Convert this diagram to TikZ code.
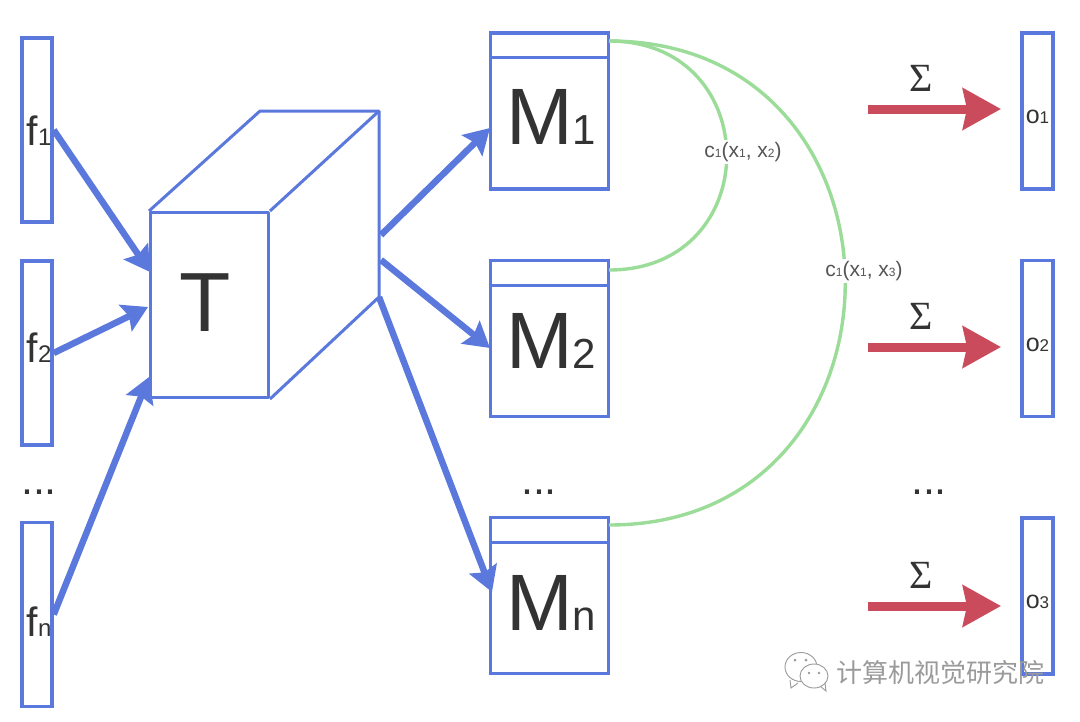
\documentclass[tikz,border=0pt]{standalone}
\usepackage{fontspec}
\setmainfont{Liberation Sans}
\newfontfamily\sigmafont{Liberation Serif}
\newfontfamily\cjkfont{Noto Sans CJK SC}
\usetikzlibrary{arrows.meta,calc}
\definecolor{boxblue}{HTML}{5B78DC}
\definecolor{sumred}{HTML}{C94B5C}
\definecolor{linkgreen}{HTML}{9ADC98}
\definecolor{inkgray}{HTML}{333333}
\definecolor{labelgray}{HTML}{555555}
\definecolor{markgray}{HTML}{9A9A9A}
\tikzset{
  bar/.style={draw=boxblue,line width=3.4pt,minimum width=30pt,minimum height=184pt,inner sep=0pt},
  memory/.style={draw=boxblue,line width=3.4pt,minimum width=118pt,minimum height=156pt,inner sep=0pt},
  outbar/.style={draw=boxblue,line width=3.4pt,minimum width=31pt,minimum height=156pt,inner sep=0pt},
  cube/.style={draw=boxblue,line width=3pt,line join=round},
  flow/.style={draw=boxblue,line width=6.5pt,-{Stealth[length=25pt,width=29pt,inset=4pt]}},
  sumflow/.style={draw=sumred,line width=9pt,-{Stealth[length=38pt,width=41pt,inset=4pt]}},
  link/.style={draw=linkgreen,line width=3.4pt},
  txt/.style={text=inkgray,inner sep=0pt},
  linklabel/.style={text=labelgray,fill=white,inner sep=2pt,font=\fontsize{21}{21}\selectfont},
}
\newcommand{\sub}[2]{{\fontsize{#1}{#1}\selectfont #2}}
\begin{document}
\begin{tikzpicture}[x=1pt,y=-1pt]
\useasboundingbox (0,0) rectangle (1080,721);
% input bars
\foreach \name/\yy/\ly/\lab in {f1/130/131/1,f2/353/348/2,fn/614.5/622/n} {
  \node [bar] (\name) at (37,\yy) {};
  \node [txt] (lab\name) at (39,\ly) {\fontsize{41}{41}\selectfont f\sub{24}{\lab}};
}
% cube
\node [cube,draw,minimum width=118pt,minimum height=185pt,inner sep=0pt] (T) at (209.5,305) {};
\node [txt] (labT) at (205,303) {\fontsize{84}{84}\selectfont T};
\coordinate (topback) at (260,111);
\coordinate (topright) at (379,111);
\coordinate (botright) at (379,297);
\draw [cube] (T.north west) -- (topback) -- (topright) -- (botright) -- (T.south east);
\draw [cube] (T.north east) -- (topright);
% memories
\foreach \name/\yy/\ly/\lab in {M1/111/117/1,M2/338.5/341/2,Mn/595.5/603/n} {
  \node [memory] (\name) at (549.5,\yy) {};
  \draw [boxblue,line width=3pt] ($(\name.north west)+(0,26.5)$) -- ($(\name.north east)+(0,26.5)$);
  \node [txt] (lab\name) at (551,\ly) {\fontsize{80}{80}\selectfont M\sub{42}{\lab}};
}
% outputs
\foreach \name/\yy/\lab/\sy/\ay in {o1/111/1/78/109,o2/338.5/2/316/347,o3/596/3/575/606} {
  \node [outbar] (\name) at (1037.5,\yy) {};
  \node [txt] (lab\name) at (1037.5,\yy+6) {\fontsize{25}{25}\selectfont o\sub{17}{\lab}};
  \coordinate (start\name) at (868,\ay);
  \coordinate (end\name) at (1001,\ay);
  \draw [sumflow] (start\name) -- (end\name);
  \node [txt] (sum\name) at (921,\sy) {\sigmafont\fontsize{40}{40}\selectfont Σ};
}
% dots
\foreach \name/\xx in {dotsf/39,dotsm/539,dotso/929} {
  \node [txt] (\name) at (\xx,492) {\fontsize{43}{43}\selectfont ...};
}
% arrows into the cube
\coordinate (in1) at (150,272);
\coordinate (in2) at (148,307);
\coordinate (in3) at (149,377);
\draw [flow] (f1.east) -- (in1);
\draw [flow] (f2.east) -- (in2);
\draw [flow] (fn.east) -- (in3);
% arrows out of the cube
\coordinate (out1) at (381,235);
\coordinate (out2) at (381,260);
\coordinate (out3) at (379,297);
\coordinate (mem1) at (490,128);
\coordinate (mem2) at (490,348);
\coordinate (mem3) at (492,592);
\draw [flow] (out1) -- (mem1);
\draw [flow] (out2) -- (mem2);
\draw [flow] (out3) -- (mem3);
% correlation arcs
\coordinate (a1) at (609,41);
\coordinate (a2) at (609,270);
\coordinate (a3) at (609,525);
\draw [link] (a1) .. controls (766,41) and (766,270) .. (a2);
\draw [link] (a1) .. controls (924,41) and (924,525) .. (a3);
\node [linklabel] (c12) at (743,152) {c\sub{12}{1}(x\sub{12}{1}, x\sub{12}{2})};
\node [linklabel] (c13) at (864,271) {c\sub{12}{1}(x\sub{12}{1}, x\sub{12}{3})};
% watermark
\draw [markgray,fill=white,line width=0.9pt] (790,680) -- (791,688) -- (798,683);
\draw [markgray,fill=white,line width=0.9pt] (801,667) ellipse (16 and 14.5);
\draw [markgray,fill=white,line width=0.9pt] (820,686) -- (826,691) -- (825,683);
\draw [markgray,fill=white,line width=0.9pt] (814,676) ellipse (14 and 12);
\fill [markgray] (795,660) circle (1.5) (806,660) circle (1.5) (809,673) circle (1.3) (819,673) circle (1.3);
\node [inner sep=0pt,text=markgray] (mark) at (940.5,673) {\cjkfont\fontsize{26}{26}\selectfont 计算机视觉研究院};
\end{tikzpicture}
\end{document}
